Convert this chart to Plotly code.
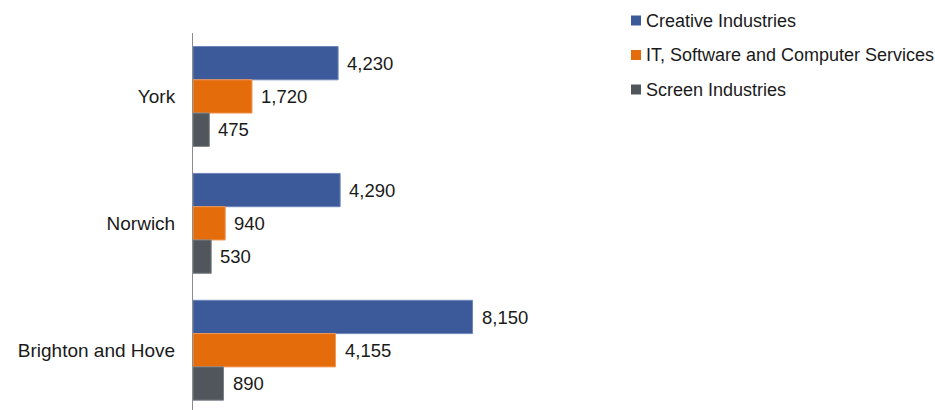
import plotly.graph_objects as go

# Data
cities = ["York", "Norwich", "Brighton and Hove"]
series_names = ["Creative Industries", "IT, Software and Computer Services", "Screen Industries"]
creative = [4230, 4290, 8150]
it_software = [1720, 940, 4155]
screen = [475, 530, 890]
series_values = [creative, it_software, screen]
colors = ["#3C5A99", "#E46C0A", "#50565B"]
edge_colors = ["#6F86BA", "#F0995A", "#7A7F84"]

W, H = 935, 410
ML, MR, MT, MB = 193, 330, 33, 0
plot_w = W - ML - MR
plot_h = H - MT - MB

FONT = "Liberation Sans, Arial, sans-serif"

fig = go.Figure()
for name, vals, col, edge in zip(series_names, series_values, colors, edge_colors):
    fig.add_trace(go.Bar(
        y=cities, x=vals, name=name, orientation="h",
        marker=dict(color=col, line=dict(color=edge, width=1)),
        showlegend=False, hoverinfo="skip",
    ))

# value labels to the right of each bar
shifts = [33, 0, -33]
annotations = []
for vals, ys in zip(series_values, shifts):
    for city, v in zip(cities, vals):
        annotations.append(dict(
            x=v, y=city, xref="x", yref="y", text=f"{v:,}",
            showarrow=False, xanchor="left", yanchor="middle",
            xshift=7, yshift=ys,
            font=dict(family=FONT, size=18.5, color="#1a1a1a"),
        ))

# legend drawn beside the plot
def px_x(px):
    return (px - ML) / plot_w

def px_y(py):
    return (H - MB - py) / plot_h

shapes = []
legend_rows = [20.5, 55, 89.5]
for name, col, cy in zip(series_names, colors, legend_rows):
    shapes.append(dict(
        type="rect", xref="paper", yref="paper",
        x0=px_x(631), x1=px_x(641), y0=px_y(cy + 5), y1=px_y(cy - 5),
        fillcolor=col, line=dict(width=0),
    ))
    annotations.append(dict(
        x=px_x(644), y=px_y(cy), xref="paper", yref="paper", text=name,
        showarrow=False, xanchor="left", yanchor="middle",
        font=dict(family=FONT, size=18, color="#1a1a1a"),
    ))

fig.update_layout(
    width=W, height=H,
    margin=dict(l=ML, r=MR, t=MT, b=MB, pad=0),
    barmode="group", bargap=0.213, bargroupgap=0,
    plot_bgcolor="white", paper_bgcolor="white",
    annotations=annotations, shapes=shapes,
    showlegend=False,
)
fig.update_xaxes(range=[0, plot_w / 0.03430], visible=False, fixedrange=True)
fig.update_yaxes(
    type="category", categoryorder="array", categoryarray=cities,
    range=[2.471, -0.5], showline=True, linecolor="#8c8c8c", linewidth=1,
    showgrid=False, zeroline=False, ticks="", ticklabelstandoff=13,
    tickfont=dict(family=FONT, size=19, color="#1a1a1a"), fixedrange=True,
)

fig.write_html("out.html")
